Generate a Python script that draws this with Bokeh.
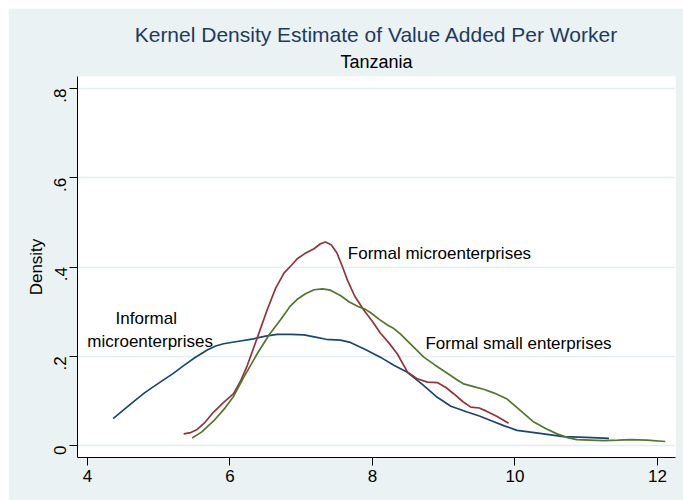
from bokeh.plotting import figure
from bokeh.models import Title, FixedTicker, Range1d, Spacer
from bokeh.layouts import column, row
from bokeh.core.properties import value
from bokeh.embed import file_html
from bokeh.resources import INLINE
import math

# ---- data ----
informal_x = [4.36, 4.60, 4.80, 5.02, 5.20, 5.35, 5.50, 5.68, 5.80, 5.91, 6.10, 6.33, 6.50, 6.66,
              6.85, 7.04, 7.20, 7.35, 7.55, 7.69, 7.90, 8.11, 8.30, 8.49, 8.70, 8.91, 9.10, 9.33,
              9.50, 9.66, 9.85, 10.03, 10.35, 10.68, 11.00, 11.32]
informal_y = [0.060, 0.092, 0.118, 0.142, 0.161, 0.179, 0.196, 0.214, 0.223, 0.228, 0.233, 0.239,
              0.245, 0.249, 0.249, 0.248, 0.243, 0.238, 0.236, 0.231, 0.215, 0.198, 0.180, 0.164,
              0.137, 0.108, 0.088, 0.075, 0.066, 0.056, 0.044, 0.034, 0.027, 0.020, 0.018, 0.016]

micro_x = [5.35, 5.45, 5.54, 5.65, 5.77, 5.90, 6.05, 6.15, 6.24, 6.38, 6.52, 6.64, 6.76, 6.87,
           6.94, 7.05, 7.18, 7.27, 7.34, 7.42, 7.50, 7.58, 7.65, 7.75, 7.88, 8.00, 8.11, 8.23,
           8.35, 8.49, 8.62, 8.77, 8.91, 9.03, 9.14, 9.27, 9.38, 9.50, 9.60, 9.75, 9.91]
micro_y = [0.026, 0.029, 0.036, 0.052, 0.075, 0.095, 0.116, 0.145, 0.178, 0.240, 0.303, 0.352,
           0.387, 0.405, 0.418, 0.430, 0.441, 0.452, 0.456, 0.450, 0.432, 0.400, 0.370, 0.335,
           0.303, 0.278, 0.252, 0.230, 0.205, 0.165, 0.150, 0.142, 0.141, 0.130, 0.116, 0.098,
           0.086, 0.084, 0.077, 0.065, 0.050]

small_x = [5.47, 5.60, 5.77, 5.92, 6.05, 6.20, 6.38, 6.55, 6.71, 6.85, 6.94, 7.06, 7.18, 7.30,
           7.41, 7.55, 7.67, 7.79, 7.90, 7.97, 8.10, 8.21, 8.30, 8.39, 8.55, 8.72, 8.88, 9.05,
           9.18, 9.28, 9.42, 9.56, 9.70, 9.89, 10.05, 10.26, 10.43, 10.59, 10.75, 10.87, 11.05,
           11.25, 11.45, 11.62, 11.85, 12.11]
small_y = [0.017, 0.030, 0.055, 0.082, 0.110, 0.155, 0.205, 0.248, 0.282, 0.313, 0.327, 0.340,
           0.349, 0.351, 0.348, 0.336, 0.322, 0.312, 0.305, 0.298, 0.282, 0.270, 0.262, 0.250,
           0.225, 0.198, 0.180, 0.162, 0.148, 0.138, 0.132, 0.126, 0.118, 0.104, 0.082, 0.053,
           0.038, 0.026, 0.017, 0.013, 0.012, 0.011, 0.012, 0.013, 0.012, 0.009]

x_ticks = [4, 6, 8, 10, 12]
y_ticks = [0, 0.2, 0.4, 0.6, 0.8]
y_tick_labels = ["0", ".2", ".4", ".6", ".8"]

label_text = ["Informal", "microenterprises", "Formal microenterprises", "Formal small enterprises"]
label_x = [4.825, 4.88, 7.654, 8.744]
label_y = [0.284, 0.233, 0.4296, 0.228]
label_align = ["center", "center", "left", "left"]

# ---- styling ----
BG = "#EAF2F3"
FONT = "Liberation Sans"

p = figure(width=675, height=492, output_backend="svg", toolbar_location=None,
           x_range=Range1d(3.860, 12.253), y_range=Range1d(-0.0269, 0.8269),
           min_border_left=69, min_border_top=68, min_border_right=8, min_border_bottom=43)
p.background_fill_color = "white"
p.border_fill_color = BG
p.outline_line_color = None

p.title.text = "Kernel Density Estimate of Value Added Per Worker"
p.title.align = "center"
p.title.text_font = FONT
p.title.text_font_size = "21px"
p.title.text_font_style = "normal"
p.title.text_color = "#1E3A5F"
p.title.standoff = 0

p.add_layout(Title(text="Tanzania", align="center", standoff=9,
                   text_font=FONT, text_font_size="18px", text_font_style="normal",
                   text_color="black"), "above")

p.line(informal_x, informal_y, line_color="#1A476F", line_width=1.7)
p.line(micro_x, micro_y, line_color="#90353B", line_width=1.7)
p.line(small_x, small_y, line_color="#55752F", line_width=1.7)

src = dict(x=label_x, y=label_y, text=label_text, align=label_align)
p.text(x="x", y="y", text="text", text_align="align", source=src,
       text_baseline="middle", text_font=value(FONT), text_font_size="17px", text_color="black")

# axes
p.xaxis.ticker = FixedTicker(ticks=x_ticks)
p.yaxis.ticker = FixedTicker(ticks=y_ticks)
p.yaxis.major_label_overrides = {t: l for t, l in zip(y_ticks, y_tick_labels)}
p.yaxis.major_label_orientation = math.pi / 2
p.yaxis.axis_label = "Density"

for ax in (p.xaxis[0], p.yaxis[0]):
    ax.axis_line_color = "black"
    ax.axis_line_width = 1
    ax.major_tick_line_color = "black"
    ax.major_tick_out = 8
    ax.major_tick_in = 0
    ax.minor_tick_line_color = None
    ax.major_label_text_font = FONT
    ax.major_label_text_font_size = "17px"
    ax.major_label_text_color = "black"
    ax.axis_label_text_font = FONT
    ax.axis_label_text_font_size = "17px"
    ax.axis_label_text_font_style = "normal"
    ax.axis_label_text_color = "black"

p.xaxis.major_label_standoff = 4
p.yaxis.major_label_standoff = 9
p.yaxis.axis_label_standoff = 0

p.xgrid.grid_line_color = None
p.ygrid.grid_line_color = "#E4EEF0"
p.ygrid.grid_line_width = 1.5

layout = column(Spacer(width=683, height=8), row(Spacer(width=8, height=492), p))

open("out.html", "w").write(file_html(layout, INLINE))
